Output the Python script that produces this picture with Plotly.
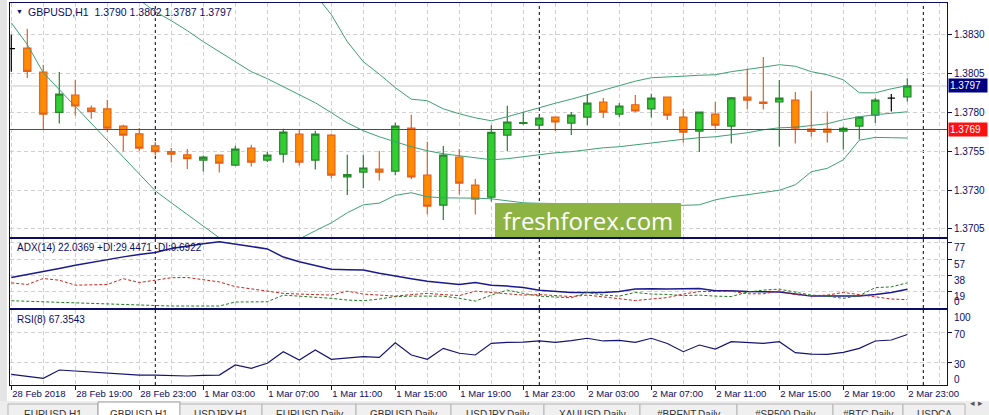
"""Gráfica GBPUSD H1 estilo MetaTrader: velas, Bandas de Bollinger, ADX y RSI"""

import pandas as pd
import plotly.graph_objects as go

# Horas de cada vela (la primera queda cortada en el borde izquierdo)
horas = pd.date_range("2018-02-28 15:00", periods=57, freq="h")

# Precios de cada vela
apertura = [1.38210, 1.38214, 1.38060, 1.37800, 1.37912, 1.37828, 1.37822, 1.37712,
            1.37662, 1.37585, 1.37547, 1.37527, 1.37493, 1.37525, 1.37461, 1.37570,
            1.37493, 1.37532, 1.37660, 1.37493, 1.37654, 1.37384, 1.37416, 1.37435,
            1.37422, 1.37699, 1.37396, 1.37203, 1.37512, 1.37332, 1.37255, 1.37654,
            1.37729, 1.37718, 1.37770, 1.37731, 1.37770, 1.37867, 1.37789, 1.37849,
            1.37822, 1.37899, 1.37770, 1.37680, 1.37789, 1.37712, 1.37899, 1.37867,
            1.37867, 1.37879, 1.37693, 1.37693, 1.37680, 1.37712, 1.37783, 1.37892,
            1.37900]
maximo = [1.38300, 1.38339, 1.38107, 1.38060, 1.38010, 1.37845, 1.37881, 1.37720,
          1.37699, 1.37609, 1.37570, 1.37564, 1.37523, 1.37527, 1.37585, 1.37592,
          1.37547, 1.37695, 1.37693, 1.37682, 1.37662, 1.37527, 1.37527, 1.37553,
          1.37733, 1.37785, 1.37611, 1.37583, 1.37564, 1.37371, 1.37718, 1.37843,
          1.37802, 1.37778, 1.37772, 1.37802, 1.37918, 1.37892, 1.37860, 1.37912,
          1.37920, 1.37901, 1.37822, 1.37804, 1.37867, 1.37899, 1.38081, 1.38156,
          1.38008, 1.37931, 1.37937, 1.37806, 1.37709, 1.37772, 1.37892, 1.37918,
          1.38020]
minimo = [1.38062, 1.38021, 1.37688, 1.37729, 1.37780, 1.37759, 1.37673, 1.37548,
          1.37553, 1.37523, 1.37478, 1.37435, 1.37420, 1.37413, 1.37455, 1.37452,
          1.37480, 1.37478, 1.37458, 1.37433, 1.37377, 1.37268, 1.37313, 1.37362,
          1.37396, 1.37371, 1.37145, 1.37107, 1.37272, 1.37143, 1.37226, 1.37551,
          1.37720, 1.37688, 1.37680, 1.37654, 1.37718, 1.37764, 1.37770, 1.37802,
          1.37767, 1.37751, 1.37604, 1.37545, 1.37695, 1.37600, 1.37822, 1.37819,
          1.37581, 1.37600, 1.37645, 1.37606, 1.37561, 1.37626, 1.37731, 1.37806,
          1.37870]
cierre = [1.38210, 1.38064, 1.37789, 1.37918, 1.37841, 1.37806, 1.37699, 1.37654,
          1.37570, 1.37548, 1.37532, 1.37503, 1.37512, 1.37474, 1.37564, 1.37480,
          1.37525, 1.37673, 1.37480, 1.37660, 1.37396, 1.37400, 1.37442, 1.37416,
          1.37712, 1.37384, 1.37197, 1.37525, 1.37345, 1.37242, 1.37671, 1.37738,
          1.37735, 1.37764, 1.37738, 1.37783, 1.37860, 1.37802, 1.37841, 1.37809,
          1.37892, 1.37783, 1.37673, 1.37802, 1.37718, 1.37894, 1.37879, 1.37858,
          1.37892, 1.37699, 1.37677, 1.37673, 1.37697, 1.37770, 1.37879, 1.37892,
          1.37970]

# Velas que MetaTrader pinta en negro
velas_negras = [0, 55]

# Bandas de Bollinger
banda_superior = [None] * 19 + [
    1.38558, 1.38429, 1.38255, 1.38126, 1.38046, 1.37959, 1.37885, 1.37875,
    1.37823, 1.37791, 1.37765, 1.37746, 1.37772, 1.37802, 1.37830, 1.37859,
    1.37885, 1.37914, 1.37943, 1.37972, 1.38001, 1.38023, 1.38030, 1.38033,
    1.38039, 1.38042, 1.38062, 1.38075, 1.38091, 1.38107, 1.38097, 1.38062,
    1.38042, 1.38010, 1.37926, 1.37926, 1.37952, 1.37972]
banda_media = [None] * 7 + [
    1.38600, 1.38525, 1.38448, 1.38390, 1.38326, 1.38255, 1.38191, 1.38126,
    1.38062, 1.38017, 1.37965, 1.37914, 1.37862, 1.37798, 1.37733, 1.37682,
    1.37643, 1.37611, 1.37579, 1.37553, 1.37534, 1.37521, 1.37508, 1.37495,
    1.37502, 1.37514, 1.37527, 1.37540, 1.37547, 1.37559, 1.37572, 1.37579,
    1.37592, 1.37604, 1.37617, 1.37627, 1.37637, 1.37643, 1.37656, 1.37669,
    1.37688, 1.37701, 1.37704, 1.37714, 1.37727, 1.37753, 1.37772, 1.37785,
    1.37794, 1.37804]
banda_inferior = [1.38377, 1.38236, 1.38055, 1.37946, 1.37836, 1.37727, 1.37617, 1.37508,
                  1.37398, 1.37295, 1.37218, 1.37141, 1.37070, 1.36993, 1.36920, 1.36890,
                  1.36900, 1.36940, 1.36985, 1.37038, 1.37089, 1.37154, 1.37205, 1.37216,
                  1.37266, 1.37283, 1.37257, 1.37250, 1.37250, 1.37248, 1.37244, 1.37231,
                  1.37218, 1.37215, 1.37213, 1.37211, 1.37209, 1.37208, 1.37207, 1.37205,
                  1.37204, 1.37203, 1.37202, 1.37205, 1.37237, 1.37257, 1.37270, 1.37283,
                  1.37299, 1.37334, 1.37418, 1.37440, 1.37495, 1.37621, 1.37639, 1.37637,
                  1.37635]

# Nivel horizontal marcado en rojo
nivel_rojo = 1.3769

# ADX(14) y sus líneas direccionales
adx = [35.7, 38.9, 42.2, 46.1, 49.9, 53.4, 56.3, 59.8, 62.7, 65.0, 69.7, 72.0, 75.1,
       77.5, 75.1, 72.0, 69.1, 59.6, 54.0, 49.4, 45.3, 44.7, 44.5, 40.6, 37.2, 34.3,
       31.4, 29.6, 27.5, 29.8, 26.7, 25.6, 24.0, 20.9, 19.2, 18.2, 18.2, 18.2, 19.2,
       22.1, 22.6, 22.1, 22.6, 22.9, 20.1, 20.1, 19.2, 18.9, 18.6, 16.3, 13.9, 13.9,
       13.9, 13.9, 15.7, 18.2, 22.0369]
di_positivo = [8.5, 7.9, 7.3, 6.4, 5.2, 4.6, 4.1, 3.7, 3.5, 2.9, 2.3, 2.3, 2.3, 2.3,
               7.0, 7.3, 7.3, 15.1, 13.9, 12.8, 11.3, 9.3, 8.5, 10.5, 13.4, 13.9, 13.9,
               13.9, 11.3, 8.1, 15.1, 20.9, 17.1, 13.9, 12.8, 12.0, 18.2, 15.1, 13.9,
               18.2, 16.3, 15.9, 14.5, 15.1, 13.9, 13.4, 18.6, 20.9, 22.1, 18.6, 15.1,
               13.9, 11.3, 14.5, 23.8, 24.7, 29.4471]
di_negativo = [29.4, 27.5, 34.5, 32.5, 26.7, 27.1, 27.5, 34.3, 29.8, 32.5, 35.4, 35.7,
               33.1, 30.5, 25.0, 22.1, 19.7, 17.1, 16.3, 15.7, 15.1, 19.7, 16.3, 15.1,
               13.9, 15.7, 17.1, 15.7, 14.5, 19.7, 18.0, 16.3, 15.1, 15.7, 14.5, 13.4,
               15.1, 12.8, 10.5, 8.7, 10.5, 12.2, 16.3, 19.2, 19.4, 19.7, 16.6, 16.6,
               20.1, 15.7, 14.3, 15.1, 18.2, 15.9, 13.1, 10.5, 9.6922]

# RSI(8)
rsi = [14.3, 12.0, 8.9, 20.0, 18.7, 17.3, 16.0, 14.0, 13.3, 13.3, 12.9, 12.0, 12.7,
       13.3, 26.7, 22.3, 28.9, 44.4, 33.3, 46.7, 34.3, 36.0, 37.7, 36.9, 56.4, 40.0,
       34.3, 48.9, 42.3, 40.0, 55.6, 56.9, 57.3, 58.7, 56.9, 59.3, 62.3, 58.7, 59.6,
       56.9, 62.3, 55.3, 44.4, 53.3, 48.0, 57.7, 56.9, 55.6, 57.7, 43.1, 41.3, 40.9,
       43.6, 48.9, 58.7, 60.0, 67.3543]
niveles_rsi = [70, 30]

# Etiquetas del eje temporal (cada 4 horas)
etiquetas_x = ["28 Feb 2018", "28 Feb 19:00", "28 Feb 23:00", "1 Mar 03:00", "1 Mar 07:00",
               "1 Mar 11:00", "1 Mar 15:00", "1 Mar 19:00", "1 Mar 23:00", "2 Mar 03:00",
               "2 Mar 07:00", "2 Mar 11:00", "2 Mar 15:00", "2 Mar 19:00", "2 Mar 23:00"]
separadores = ["2018-03-01 00:00", "2018-03-02 00:00", "2018-03-03 00:00"]

ticks_precio = [1.3705, 1.3730, 1.3755, 1.3780, 1.3805, 1.3830]
ticks_adx = [19, 38, 57, 77]

pestanas = ["EURUSD,H1", "GBPUSD,H1", "USDJPY,H1", "EURUSD,Daily", "GBPUSD,Daily",
            "USDJPY,Daily", "XAUUSD,Daily", "#BRENT,Daily", "#SP500,Daily", "#BTC,Daily",
            "USDCA"]
bordes_pestanas = [8, 98, 180, 262, 356, 451, 544, 640, 737, 833, 903, 965]

# Colores del terminal
azul = "#0c0c64"
naranja, naranja_borde = "#FF8C00", "#E2621B"
verde, verde_borde = "#32CD32", "#25862A"
banda_color = "#3f9f72"
fuente = "Liberation Sans"

# Tamaño de la figura y márgenes (en pixeles)
ANCHO, ALTO = 989, 415
M_IZQ, M_DER, M_SUP, M_INF = 10, 42, 3, 30


def px(x):
    """Convierte pixel horizontal a coordenada paper"""
    return (x - M_IZQ) / (ANCHO - M_IZQ - M_DER)


def py(y):
    """Convierte pixel vertical a coordenada paper"""
    return (ALTO - M_INF - y) / (ALTO - M_SUP - M_INF)


x_str = [h.strftime("%Y-%m-%d %H:%M") for h in horas]
negras = set(velas_negras)


def filtra(lista, negra):
    return [v if ((i in negras) == negra) else None for i, v in enumerate(lista)]


fig = go.Figure()

# Velas de colores
fig.add_trace(go.Candlestick(
    x=x_str, open=filtra(apertura, False), high=filtra(maximo, False),
    low=filtra(minimo, False), close=filtra(cierre, False),
    increasing=dict(fillcolor=verde, line=dict(color=verde_borde, width=1.2)),
    decreasing=dict(fillcolor=naranja, line=dict(color=naranja_borde, width=1.2)),
    whiskerwidth=0, xaxis="x", yaxis="y", hoverinfo="skip"))

# Velas negras (doji)
fig.add_trace(go.Candlestick(
    x=x_str, open=filtra(apertura, True), high=filtra(maximo, True),
    low=filtra(minimo, True), close=filtra(cierre, True),
    increasing=dict(fillcolor="black", line=dict(color="black", width=1.2)),
    decreasing=dict(fillcolor="black", line=dict(color="black", width=1.2)),
    whiskerwidth=0, xaxis="x", yaxis="y", hoverinfo="skip"))

# Bandas de Bollinger
for banda in [banda_superior, banda_media, banda_inferior]:
    fig.add_trace(go.Scatter(x=x_str, y=banda, mode="lines",
                             line=dict(color=banda_color, width=1),
                             xaxis="x", yaxis="y", hoverinfo="skip"))

# Panel ADX
fig.add_trace(go.Scatter(x=x_str, y=adx, mode="lines", line=dict(color="#1a1a8c", width=1.5),
                         xaxis="x2", yaxis="y2"))
fig.add_trace(go.Scatter(x=x_str, y=di_positivo, mode="lines",
                         line=dict(color="#1f7a1f", width=1, dash="3px,2px"),
                         xaxis="x2", yaxis="y2"))
fig.add_trace(go.Scatter(x=x_str, y=di_negativo, mode="lines",
                         line=dict(color="#c8241c", width=1, dash="3px,2px"),
                         xaxis="x2", yaxis="y2"))

# Panel RSI
fig.add_trace(go.Scatter(x=x_str, y=rsi, mode="lines", line=dict(color="#141470", width=1.2),
                         xaxis="x3", yaxis="y3"))

# Ejes
x_ini = horas[0] - pd.Timedelta(hours=0.081)
x_fin = horas[0] + pd.Timedelta(hours=58.48)
grid = dict(gridcolor="#D0D0D0", griddash="4px,3px", gridwidth=1)
eje_x = dict(type="date", range=[x_ini.strftime("%Y-%m-%d %H:%M:%S"),
                                 x_fin.strftime("%Y-%m-%d %H:%M:%S")],
             showgrid=False, zeroline=False, showline=True, linecolor=azul, linewidth=1,
             mirror=True, tickvals=x_str[::4], showticklabels=False, ticks="",
             rangeslider=dict(visible=False),
             minor=dict(tick0=x_str[0], dtick=2 * 3600 * 1000, showgrid=True, ticks="", **grid))
eje_y = dict(side="right", zeroline=False, showline=True, linecolor=azul, linewidth=1,
             mirror=True, ticks="outside", ticklen=4, tickcolor=azul, showgrid=True,
             automargin=False,
             tickfont=dict(family=fuente, size=10, color=azul), **grid)

fig.update_layout(
    width=ANCHO, height=ALTO,
    margin=dict(l=M_IZQ, r=M_DER, t=M_SUP, b=M_INF),
    paper_bgcolor="white", plot_bgcolor="white",
    showlegend=False, boxgap=0.35,
    font=dict(family=fuente, size=10, color=azul),
    xaxis=dict(eje_x, anchor="y"),
    xaxis2=dict(eje_x, anchor="y2", matches="x"),
    xaxis3=dict(eje_x, anchor="y3", matches="x", showticklabels=True, ticktext=etiquetas_x,
                ticks="outside", ticklen=4, tickcolor=azul, tickangle=0, automargin=False,
                ticklabelposition="outside right",
                tickfont=dict(family=fuente, size=9.5, color=azul)),
    yaxis=dict(eje_y, domain=[py(237), 1], range=[1.36998, 1.38504],
               tickvals=ticks_precio, tickformat=".4f"),
    yaxis2=dict(eje_y, domain=[py(308), py(238.5)], range=[0, 81.3],
                tickvals=ticks_adx, ticklabelshift=5),
    yaxis3=dict(eje_y, domain=[0, py(310)], range=[0, 100],
                tickvals=niveles_rsi, ticklabelshift=2),
)

formas = []
# Línea roja de nivel (encima de las velas) y línea de precio bid
formas.append(dict(type="line", xref="paper", yref="y", x0=0, x1=1, y0=nivel_rojo,
                   y1=nivel_rojo, line=dict(color="#E01010", width=1.2), layer="above"))
formas.append(dict(type="line", xref="paper", yref="y", x0=0, x1=1, y0=cierre[-1],
                   y1=cierre[-1], line=dict(color="#C8C8C8", width=1), layer="below"))
# Separadores de día en cada panel
for s in separadores:
    for ex, ey in [("x", "y"), ("x2", "y2"), ("x3", "y3")]:
        formas.append(dict(type="line", xref=ex, yref=ey + " domain", x0=s, x1=s, y0=0, y1=1,
                           line=dict(color="black", width=1, dash="3px,3px"),
                           layer="below"))
# Niveles RSI
for n in niveles_rsi:
    formas.append(dict(type="line", xref="paper", yref="y3", x0=0, x1=1, y0=n, y1=n,
                       line=dict(color="#C00000", width=1, dash="4px,3px"), layer="below"))
# Marca de agua
formas.append(dict(type="rect", xref="paper", yref="paper", x0=px(495), x1=px(681),
                   y0=py(237), y1=py(203), fillcolor="#8db443", line=dict(width=0),
                   layer="above"))
# Borde izquierdo de la ventana
formas.append(dict(type="rect", xref="paper", yref="paper", x0=px(0), x1=px(7),
                   y0=py(415), y1=py(0), fillcolor="#E4E4E4", line=dict(width=0)))
# Barra de pestañas
formas.append(dict(type="rect", xref="paper", yref="paper", x0=px(0), x1=px(989),
                   y0=py(415), y1=py(401), fillcolor="#EDEDED", line=dict(width=0)))
for i in range(len(pestanas)):
    activa = i == 1
    formas.append(dict(type="rect", xref="paper", yref="paper",
                       x0=px(bordes_pestanas[i]), x1=px(bordes_pestanas[i + 1]),
                       y0=py(416), y1=py(402 if activa else 404),
                       fillcolor="white" if activa else "#F0F0F0",
                       line=dict(color="#9A9A9A" if activa else "#B4B4B4", width=1)))
fig.update_layout(shapes=formas)

notas = []
# Encabezados de cada panel
notas.append(dict(x=px(14), y=py(12), text="▼", font=dict(size=7, color=azul)))
notas.append(dict(x=px(26), y=py(12),
                  text=f"GBPUSD,H1  {apertura[-1]:.4f} {maximo[-1]:.4f} "
                       f"{minimo[-1]:.4f} {cierre[-1]:.4f}",
                  font=dict(family=fuente, size=10.5, color=azul)))
notas.append(dict(x=px(15), y=py(247),
                  text=f"ADX(14) {adx[-1]:.4f} +DI:{di_positivo[-1]:.4f} -DI:{di_negativo[-1]:.4f}"))
notas.append(dict(x=px(15), y=py(319), text=f"RSI(8) {rsi[-1]:.4f}"))
# Etiquetas de escala recortadas
notas.append(dict(x=1, xshift=5, y=py(301), text="0"))
notas.append(dict(x=1, xshift=5, y=py(317), text="100"))
notas.append(dict(x=1, xshift=5, y=py(379), text="0"))
for n in notas:
    n.update(xref="paper", yref="paper", xanchor="left", yanchor="middle", showarrow=False)
    n.setdefault("font", dict(family=fuente, size=10, color=azul))

# Cuadros de precio en la escala derecha
for precio, fondo in [(cierre[-1], "#000080"), (nivel_rojo, "#FF1010")]:
    notas.append(dict(x=1, xref="paper", y=precio, yref="y", xanchor="left", xshift=1,
                      text=f"{precio:.4f}" + "&nbsp;" * 2, showarrow=False, bgcolor=fondo,
                      borderpad=1, font=dict(family=fuente, size=10, color="white")))

# Texto de la marca de agua
notas.append(dict(x=px(588), y=py(220), xref="paper", yref="paper", text="freshforex.com",
                  xanchor="center", showarrow=False,
                  font=dict(family="Open Sans", size=24, color="white")))

# Nombres de las pestañas
for i, nombre in enumerate(pestanas):
    centro = (bordes_pestanas[i] + bordes_pestanas[i + 1]) / 2
    notas.append(dict(x=px(centro), y=py(407), xref="paper", yref="paper", text=nombre,
                      xanchor="center", yanchor="top", showarrow=False,
                      font=dict(family=fuente, size=10, color="#333333")))
notas.append(dict(x=px(977), y=py(410), xref="paper", yref="paper", text="◂ ▸",
                  xanchor="center", showarrow=False,
                  font=dict(family=fuente, size=9, color="#555555")))
fig.update_layout(annotations=notas)

# Se quita el margen del body para que la figura ocupe toda la ventana
fig.write_html("out.html", config={"displayModeBar": False},
               post_script="document.body.style.margin = '0';")
